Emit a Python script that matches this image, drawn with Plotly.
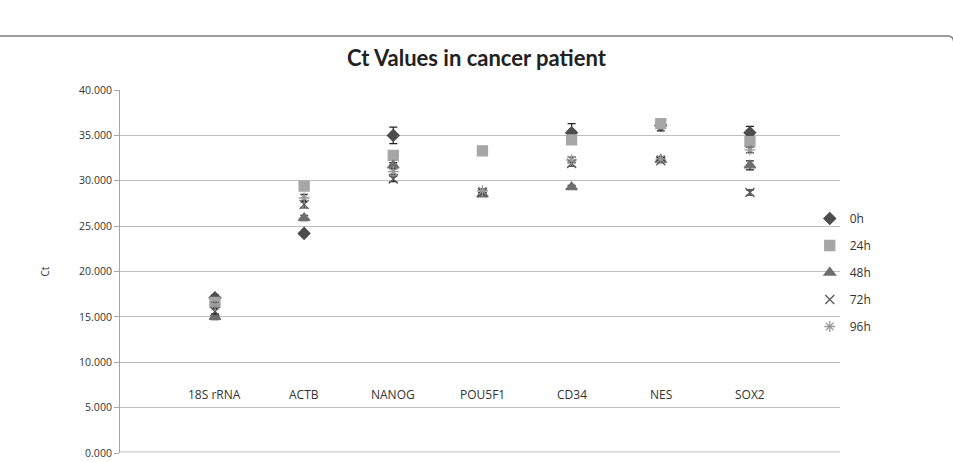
import plotly.graph_objects as go

categories = ["18S rRNA", "ACTB", "NANOG", "POU5F1", "CD34", "NES", "SOX2"]
series_names = ["0h", "24h", "48h", "72h", "96h"]

ct_0h = [17.1, 24.2, 35.0, None, 35.3, 36.1, 35.3]
ct_24h = [16.6, 29.4, 32.8, 33.3, 34.5, 36.3, 34.3]
ct_48h = [15.0, 25.9, 31.7, 28.5, 29.3, 32.3, 31.7]
ct_72h = [15.6, 27.4, 30.2, 28.7, 31.9, 32.2, 28.7]
ct_96h = [16.3, 28.1, 31.0, 28.9, 32.3, 32.4, 33.4]

err_0h = [0.3, 0.2, 0.9, 0.0, 1.0, 0.6, 0.7]
err_24h = [0.3, 0.2, 0.3, 0.1, 0.3, 0.4, 0.3]
err_48h = [0.3, 0.3, 0.3, 0.2, 0.2, 0.2, 0.5]
err_72h = [0.3, 0.4, 0.3, 0.2, 0.3, 0.2, 0.3]
err_96h = [0.3, 0.4, 0.3, 0.2, 0.3, 0.2, 0.3]

values = [ct_0h, ct_24h, ct_48h, ct_72h, ct_96h]
errors = [err_0h, err_24h, err_48h, err_72h, err_96h]
symbols = ["diamond", "square", "triangle-up", "x-thin-open", "asterisk-open"]
colors = ["#4d4d4d", "#a6a6a6", "#6e6e6e", "#5a5a5a", "#9a9a9a"]
sizes = [9, 10, 10, 9, 9]

x_idx = list(range(len(categories)))

fig = go.Figure()
for name, vals, errs, sym, col, sz in zip(series_names, values, errors, symbols, colors, sizes):
    fig.add_trace(go.Scatter(
        x=x_idx, y=vals, mode="markers", name=name, legendgroup=name,
        marker=dict(symbol=sym, color=col, size=sz, line=dict(color=col, width=1.3)),
        error_y=dict(type="data", array=errs, visible=True, color="#222222",
                     thickness=1.2, width=4),
    ))

for i, c in enumerate(categories):
    fig.add_annotation(x=i, y=6.5, text=c, showarrow=False, xref="x", yref="y",
                       font=dict(family="Open Sans", size=12, color="#333333"))

# outer chart border (rounded top-right)
fig.add_shape(type="path", xref="paper", yref="paper",
              path="M -0.2,1.149 L 1.15,1.149 Q 1.158,1.149 1.158,1.13",
              line=dict(color="#7f7f7f", width=1.5))
# baseline gridline at 0
fig.add_shape(type="line", xref="paper", yref="paper", x0=0, x1=1, y0=0.003, y1=0.003,
              line=dict(color="#bfbfbf", width=1))

fig.update_layout(
    width=953, height=462,
    margin=dict(l=120, r=113, t=90, b=9),
    paper_bgcolor="white", plot_bgcolor="white",
    title=dict(text="<b>Ct Values in cancer patient</b>", x=0.5, xanchor="center",
               y=1 - 58 / 462, yanchor="middle",
               font=dict(family="Lato", size=22, color="#222222")),
    showlegend=True,
    legend=dict(x=0.958, y=0.686, xanchor="left", yanchor="top",
                font=dict(family="Open Sans", size=12, color="#333333"),
                traceorder="grouped", tracegroupgap=8, itemwidth=30,
                bgcolor="rgba(0,0,0,0)"),
    xaxis=dict(range=[-1.065, 7.01], showgrid=False, zeroline=False,
               showticklabels=False, showline=False, ticks="", automargin=False),
    yaxis=dict(range=[0, 40], dtick=5, tickformat=".3f", showgrid=True,
               gridcolor="#bfbfbf", gridwidth=1, zeroline=False, automargin=False,
               showline=True, linecolor="#a6a6a6", linewidth=1,
               ticks="outside", ticklen=5, tickcolor="#a6a6a6",
               tickfont=dict(family="Open Sans", size=10.5, color="#333333"),
               title=dict(text="Ct", standoff=27,
                          font=dict(family="Open Sans", size=10, color="#333333"))),
)

fig.write_html("out.html")
